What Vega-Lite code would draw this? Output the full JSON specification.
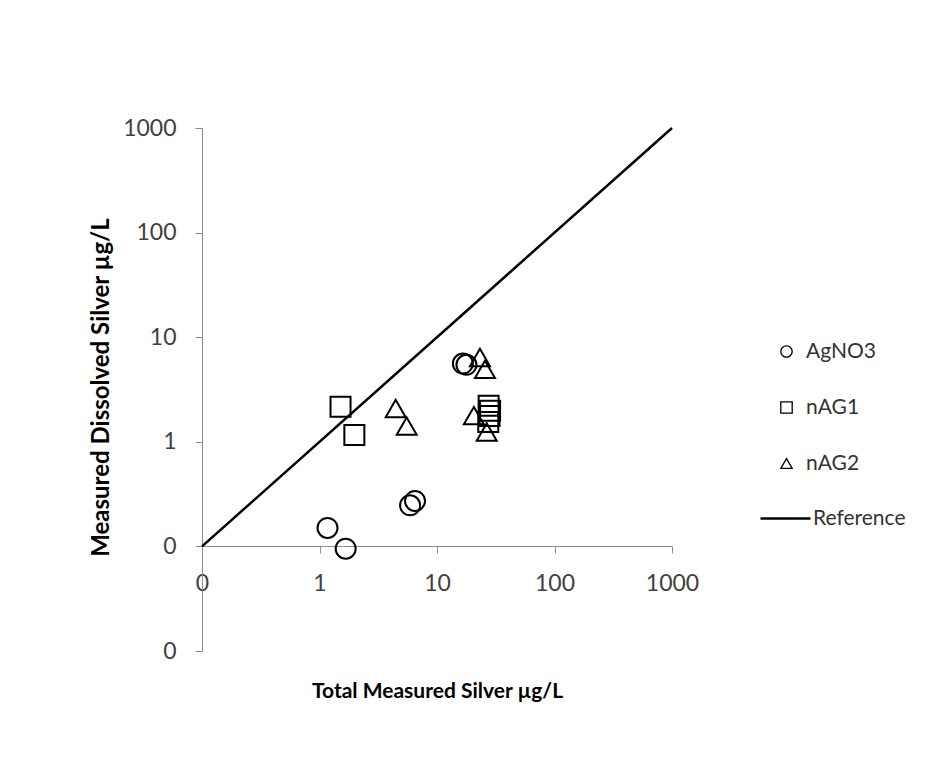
{
  "$schema": "https://vega.github.io/schema/vega-lite/v6.json",
  "width": 470,
  "height": 523,
  "autosize": {"type": "none"},
  "padding": {"left": 202, "top": 128, "right": 265, "bottom": 132},
  "background": "white",
  "config": {"view": {"stroke": null}, "font": "Lato"},
  "layer": [
    {
      "data": {
        "values": [
          {"series": "AgNO3", "total": 16.6, "dissolved": 5.6},
          {"series": "AgNO3", "total": 17.8, "dissolved": 5.45},
          {"series": "AgNO3", "total": 1.17, "dissolved": 0.15},
          {"series": "AgNO3", "total": 1.67, "dissolved": 0.095},
          {"series": "AgNO3", "total": 5.9, "dissolved": 0.247},
          {"series": "AgNO3", "total": 6.5, "dissolved": 0.272},
          {"series": "nAG1", "total": 1.51, "dissolved": 2.16},
          {"series": "nAG1", "total": 1.98, "dissolved": 1.16},
          {"series": "nAG1", "total": 27.5, "dissolved": 2.21},
          {"series": "nAG1", "total": 28.3, "dissolved": 1.98},
          {"series": "nAG1", "total": 28.0, "dissolved": 1.76},
          {"series": "nAG1", "total": 27.3, "dissolved": 1.55},
          {"series": "nAG2", "total": 4.45, "dissolved": 2.08},
          {"series": "nAG2", "total": 5.52, "dissolved": 1.41},
          {"series": "nAG2", "total": 23.2, "dissolved": 6.4},
          {"series": "nAG2", "total": 25.6, "dissolved": 4.92},
          {"series": "nAG2", "total": 20.6, "dissolved": 1.78},
          {"series": "nAG2", "total": 26.5, "dissolved": 1.24}
        ]
      },
      "mark": {"type": "point", "filled": false, "stroke": "black", "strokeWidth": 2, "size": 400, "opacity": 1},
      "encoding": {
        "x": {
          "field": "total", "type": "quantitative",
          "scale": {"type": "log", "domain": [0.1, 1000], "nice": false},
          "axis": {
            "values": [0.1, 1, 10, 100, 1000],
            "labelExpr": "datum.value < 1 ? '0' : format(datum.value, 'd')",
            "offset": -105, "grid": false,
            "domainColor": "#8c8c8c", "tickColor": "#8c8c8c", "tickSize": 7,
            "labelPadding": 19, "labelFontSize": 23, "labelColor": "#404040", "labelFont": "Lato",
            "labelFlush": false, "labelOverlap": false,
            "title": "Total Measured Silver µg/L", "titleFontSize": 21, "titleFont": "Lato",
            "titleFontWeight": "bold", "titleColor": "black",
            "titleX": 235, "titleY": 145, "titleBaseline": "middle", "titleAlign": "center"
          }
        },
        "y": {
          "field": "dissolved", "type": "quantitative",
          "scale": {"type": "log", "domain": [0.01, 1000], "nice": false},
          "axis": {
            "values": [0.01, 0.1, 1, 10, 100, 1000],
            "labelExpr": "datum.value < 1 ? '0' : format(datum.value, 'd')",
            "grid": false,
            "domainColor": "#8c8c8c", "tickColor": "#8c8c8c", "tickSize": 7,
            "labelPadding": 19, "labelFontSize": 23, "labelColor": "#404040", "labelFont": "Lato",
            "labelFlush": false, "labelOverlap": false,
            "title": "Measured Dissolved Silver µg/L", "titleFontSize": 24, "titleFont": "Lato",
            "titleFontWeight": "bold", "titleColor": "black",
            "titleX": -101, "titleY": 259, "titleAngle": -90, "titleBaseline": "middle", "titleAlign": "center"
          }
        },
        "shape": {
          "field": "series", "type": "nominal",
          "scale": {"domain": ["AgNO3", "nAG1", "nAG2"], "range": ["circle", "square", "triangle-up"]},
          "legend": {
            "orient": "none", "legendX": 574, "legendY": 213, "title": null,
            "symbolSize": 130, "symbolStrokeWidth": 1.3, "symbolStrokeColor": "black", "symbolFillColor": "transparent",
            "labelFontSize": 21, "labelFont": "Lato", "labelColor": "#333333", "labelOffset": 9, "rowPadding": 34
          }
        }
      }
    },
    {
      "data": {"values": [{"ref": "Reference", "total": 0.1, "dissolved": 0.1}, {"ref": "Reference", "total": 1000, "dissolved": 1000}]},
      "mark": {"type": "line", "strokeWidth": 2.5},
      "encoding": {
        "x": {"field": "total", "type": "quantitative", "title": "Total Measured Silver µg/L"},
        "y": {"field": "dissolved", "type": "quantitative", "title": "Measured Dissolved Silver µg/L"},
        "color": {
          "field": "ref", "type": "nominal",
          "scale": {"domain": ["Reference"], "range": ["black"]},
          "legend": {
            "orient": "none", "legendX": 557, "legendY": 364, "title": null,
            "symbolType": "stroke", "symbolSize": 2500, "symbolStrokeWidth": 2.5,
            "labelFontSize": 21, "labelFont": "Lato", "labelColor": "#333333", "labelOffset": 1
          }
        }
      }
    }
  ]
}
